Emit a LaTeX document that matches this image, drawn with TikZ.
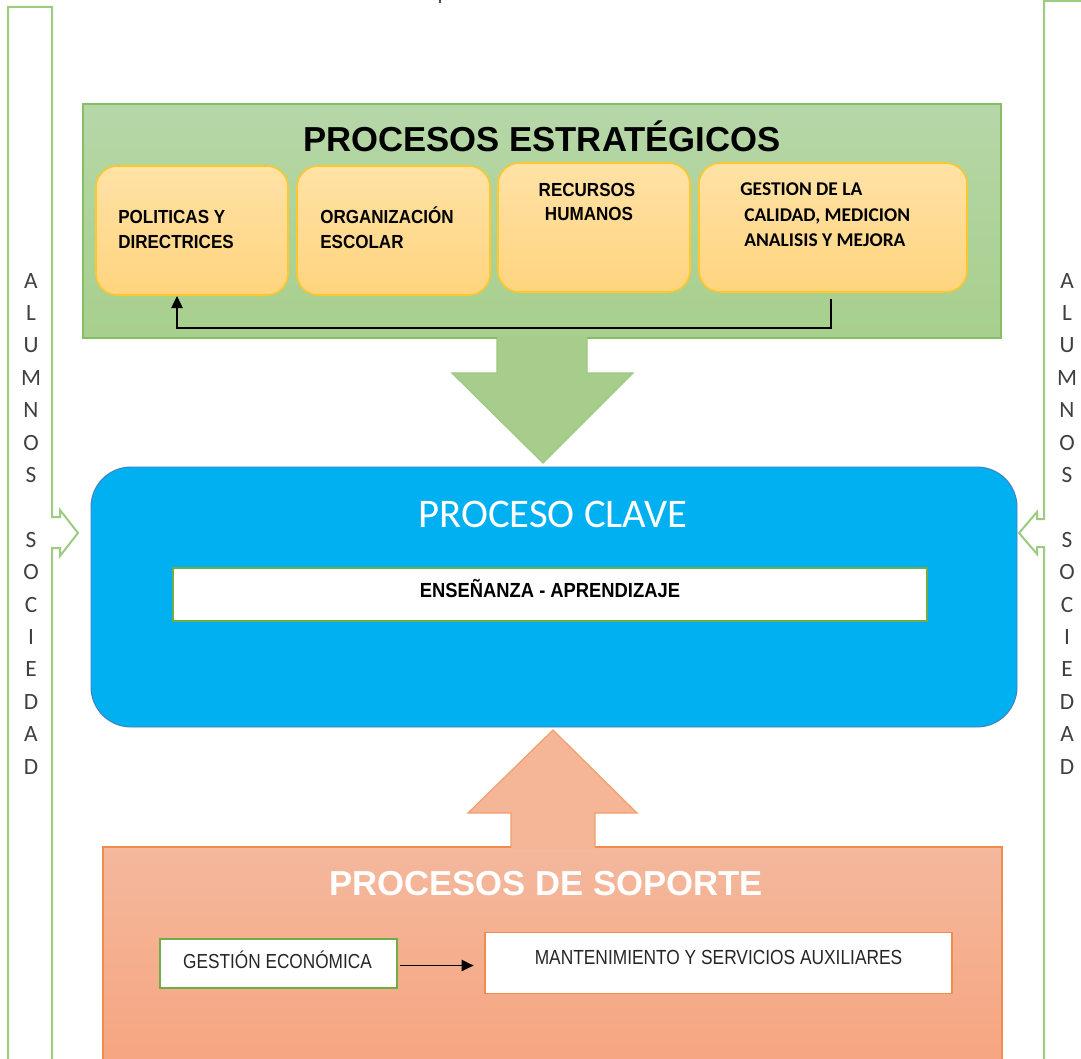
\documentclass[tikz,border=0pt]{standalone}
\usepackage{fontspec}
\setmainfont{Liberation Sans}
\newfontfamily\calib{Carlito}
\newfontfamily\narrowf{Liberation Sans}[FakeStretch=0.85]
\newfontfamily\narrowbf{Liberation Sans}[FakeStretch=0.9]
\usetikzlibrary{arrows.meta}
\definecolor{sideGreen}{HTML}{9DCB80}
\definecolor{stratTop}{HTML}{B6D7A8}
\definecolor{stratBot}{HTML}{A7CF8D}
\definecolor{stratLine}{HTML}{86BE66}
\definecolor{arrowGreen}{HTML}{A6CD8B}
\definecolor{arrowGreenLine}{HTML}{9CC982}
\definecolor{boxTop}{HTML}{FFE2A6}
\definecolor{boxBot}{HTML}{FFD47E}
\definecolor{boxLine}{HTML}{FFC72C}
\definecolor{claveBlue}{HTML}{00B0F0}
\definecolor{claveLine}{HTML}{3F7FBF}
\definecolor{sopTop}{HTML}{F4B89D}
\definecolor{sopBot}{HTML}{F6A57F}
\definecolor{sopLine}{HTML}{F08C4E}
\definecolor{arrowOrange}{HTML}{F4B697}
\definecolor{arrowOrangeLine}{HTML}{F2A06C}
\definecolor{okGreen}{HTML}{70AD47}
\definecolor{letterGray}{HTML}{404040}
\begin{document}
\begin{tikzpicture}[x=0.75pt,y=-0.75pt,
  sidebar/.style={draw=sideGreen,line width=1.5pt,fill=white},
  vletter/.style={anchor=base,inner sep=0pt,text=letterGray,font=\calib\fontsize{17.5}{20}\selectfont},
  stratbox/.style={draw=stratLine,line width=0.9pt,top color=stratTop,bottom color=stratBot,
    minimum width={918*0.75pt},minimum height={234*0.75pt},inner sep=0pt},
  procbox/.style={draw=boxLine,line width=1.2pt,top color=boxTop,bottom color=boxBot,
    rounded corners=16pt,minimum height={129*0.75pt},inner sep=0pt},
  boxtext/.style={inner sep=0pt,font=\narrowbf\bfseries\fontsize{14.2}{18}\selectfont},
  bigtitle/.style={anchor=base,inner sep=0pt,font=\bfseries\fontsize{26}{30}\selectfont},
  clavebox/.style={draw=claveLine,line width=0.7pt,fill=claveBlue,rounded corners=30pt,
    minimum width={926*0.75pt},minimum height={260*0.75pt},inner sep=0pt},
  whitebox/.style={fill=white,inner sep=0pt},
  sopbox/.style={draw=sopLine,line width=0.9pt,top color=sopTop,bottom color=sopBot,
    minimum width={899*0.75pt},minimum height={223*0.75pt},inner sep=0pt},
  conn/.style={draw=black,line width=1pt,-{Triangle[length=9pt,width=8.5pt]}},
]
\useasboundingbox (0,0) rectangle (1081,1059);
\fill[white] (0,0) rectangle (1081,1059);

% small mark at the top
\draw[black!70,line width=1.2pt] (440,0) -- (440,3);

% side bars with arrows
\draw[sidebar] (8,1065) -- (8,7) -- (52,7) -- (52,517) -- (60,517) -- (60,510)
  -- (78,533) -- (60,556) -- (60,548) -- (52,548) -- (52,1065);
\draw[sidebar] (1044,1065) -- (1044,547) -- (1037,547) -- (1037,554) -- (1019,533)
  -- (1037,512) -- (1037,519) -- (1044,519) -- (1044,1) -- (1090,1);
\foreach \ch/\k in {A/0,L/1,U/2,M/3,N/4,O/5,S/6,S/8,O/9,C/10,I/11,E/12,D/13,A/14,D/15}{
  \node[vletter] (lft\k) at (31,{288+32.4*\k}) {\ch};
  \node[vletter] (rgt\k) at (1067,{288+32.4*\k}) {\ch};
}

% strategic processes
\node[stratbox] (strat) at (542,221) {};
\node[bigtitle] (stratT) at (542,152) {PROCESOS ESTRATÉGICOS};
\node[procbox,minimum width={192*0.75pt}] (g1) at (192,230.5) {};
\node[procbox,minimum width={193*0.75pt}] (g2) at (393.5,230.5) {};
\node[procbox,minimum width={192*0.75pt}] (g3) at (594,227.5) {};
\node[procbox,minimum width={268*0.75pt}] (g4) at (833,227.5) {};
\node[boxtext,anchor=base west,align=left] (t1) at (118,248) {POLITICAS Y\\DIRECTRICES};
\node[boxtext,anchor=base west,align=left] (t2) at (320,248) {ORGANIZACIÓN\\ESCOLAR};
\node[boxtext,anchor=base,align=center] (t3) at (587,221) {RECURSOS\\\hspace*{3pt}HUMANOS};
\node[inner sep=0pt,anchor=base west,align=left,font=\calib\bfseries\fontsize{14.6}{19.2}\selectfont]
  (t4) at (744,247) {\hspace*{-3pt}GESTION DE LA\\CALIDAD, MEDICION\\ANALISIS Y MEJORA};
\coordinate (c4) at (831,299);
\coordinate (c1) at (177,296);
\draw[conn] (c4) |- (177,328) -- (c1);

% green block arrow down
\fill[arrowGreen] (497,336) -- (497,373) -- (452,373) -- (543,463) -- (633,373) -- (587,373) -- (587,336) -- cycle;
\draw[arrowGreenLine,line width=0.9pt,line join=miter] (497,339) -- (497,373) -- (452,373) -- (543,463) -- (633,373) -- (587,373) -- (587,339);

% key process
\node[clavebox] (clave) at (554,597) {};
\node[anchor=base,inner sep=0pt,text=white,font=\calib\fontsize{30.5}{34}\selectfont] (claveT) at (553,527) {PROCESO CLAVE};
\node[whitebox,draw=okGreen,line width=0.8pt,minimum width={754*0.75pt},minimum height={53*0.75pt}] (ens) at (550,594.5) {};
\node[anchor=base,inner sep=0pt,font=\narrowbf\bfseries\fontsize{15.3}{18}\selectfont] (ensT) at (550,597) {ENSEÑANZA - APRENDIZAJE};

% support processes
\node[sopbox] (sop) at (552.5,958.5) {};
\fill[arrowOrange] (511,849) -- (511,813) -- (468,813) -- (553,730) -- (637,813) -- (595,813) -- (595,849) -- cycle;
\draw[arrowOrangeLine,line width=0.9pt,line join=miter] (511,847) -- (511,813) -- (468,813) -- (553,730) -- (637,813) -- (595,813) -- (595,847);
\node[bigtitle,text=white] (sopT) at (546,895) {PROCESOS DE SOPORTE};
\node[whitebox,draw=okGreen,line width=1.1pt,minimum width={237*0.75pt},minimum height={49*0.75pt}] (ge) at (278.5,963.5) {};
\node[anchor=base,inner sep=0pt,text=black!85,font=\narrowf\fontsize{15.2}{18}\selectfont] (geT) at (277.5,968) {GESTIÓN ECONÓMICA};
\node[whitebox,draw=sopLine,line width=1.1pt,minimum width={467*0.75pt},minimum height={61*0.75pt}] (ma) at (718.5,963) {};
\node[anchor=base,inner sep=0pt,text=black!85,font=\narrowf\fontsize{15.3}{18}\selectfont] (maT) at (718.5,964) {MANTENIMIENTO Y SERVICIOS AUXILIARES};
\draw[conn,shorten <=1.5pt,shorten >=8pt] ([yshift=-1.5pt]ge.east) -- ([yshift=-1.5pt]ge.east -| ma.west);
\end{tikzpicture}
\end{document}
